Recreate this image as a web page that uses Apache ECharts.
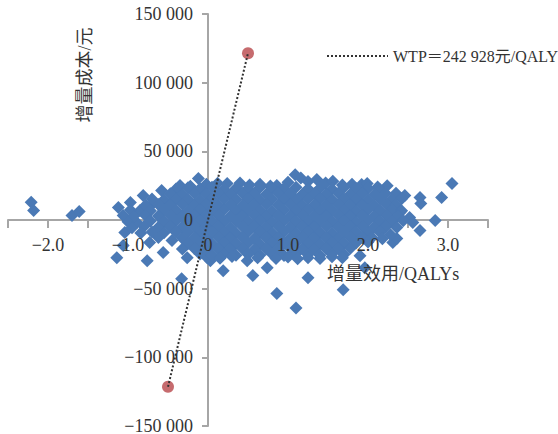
<!DOCTYPE html>
<html>
<head>
<meta charset="utf-8">
<script src="https://cdn.jsdelivr.net/npm/echarts@6/dist/echarts.min.js"></script>
<style>
html,body{margin:0;padding:0;background:#fff;}
#chart{width:558px;height:434px;}
</style>
</head>
<body>
<div id="chart"></div>
<script>
// ---- Data ----
const xAxisTitle = '增量效用/QALYs';
const yAxisTitle = '增量成本/元';
const wtpValue = 242928;
const wtpLabel = 'WTP＝242 928元/QALY';
const wtpPoints = [[-0.5, -121464], [0.5, 121464]];
const xTickLabels = ['−2.0', '−1.0', '0', '1.0', '2.0', '3.0'];

// incremental effect (QALYs), incremental cost (yuan)
const psaOutliers = [
  [-2.21,13000],[-2.18,7000],[-1.70,3300],[-1.61,6200],
  [-1.12,9100],[-0.97,12800],[-0.81,17900],[-0.58,21500],[-0.35,25200],[-0.12,30300],
  [-1.06,3300],[-1.04,-9100],[-1.14,-27400],[-0.76,-29600],[-0.33,-42700],[-1.06,-18600],
  [-0.73,-16400],[-0.56,-23700],[-0.45,-15000],[-0.26,-27400],[-0.89,-1800],[-0.85,6900],[-0.69,12000],
  [0.03,-29600],[0.19,-36900],[0.56,-40500],[0.74,-34700],[0.86,-53500],[1.10,-64000],[1.25,-42000],
  [1.69,-50700],[1.96,-34700],[1.90,-26000],[-0.01,-27400],
  [3.05,26600],[2.92,16400],[2.84,-400],[2.65,-7700],[2.65,16400],[2.66,12000],[2.46,17900],
  [2.31,-16400],[2.52,1800],[2.56,-1800],[2.40,5500],[2.24,25000],[2.36,-13500]
];
const psaUpper = [
  [-0.22,24500],[-0.02,26000],[0.12,26800],[0.24,26600],[0.40,26900],[0.52,25500],[0.65,26000],
  [0.78,24800],[0.86,25200],[1.00,27500],[1.09,33000],[1.16,30500],[1.25,28000],[1.36,29500],
  [1.47,27000],[1.56,28200],[1.68,25500],[1.80,26000],[1.92,25800],[1.99,26600],[2.12,24000],
  [-0.40,22600],[-0.25,23400],[-0.10,22800],[0.05,23900],[0.20,22400],[0.35,23200],[0.50,22900],
  [0.65,23600],[0.80,22300],[0.95,23100],[1.10,23800],[1.25,22700],[1.40,23300],[1.55,22500],
  [1.70,23700],[1.85,22900],[2.00,23100],[2.15,22000],
  [-0.47,19200],[-0.32,18700],[-0.17,19500],[-0.02,18900],[0.13,19300],[0.28,18600],[0.43,19400],
  [0.58,19000],[0.73,18800],[0.88,19600],[1.03,19100],[1.18,18700],[1.33,19300],[1.48,18900],
  [1.63,19500],[1.78,18800],[1.93,19200],[2.08,18600],[2.22,19300],[2.35,19500],
  [-0.70,15300],[-0.55,14800],[-0.40,15400],[-0.25,15000],[-0.10,14700],[0.05,15200],[0.20,15500],
  [0.35,14900],[0.50,15100],[0.65,14600],[0.80,15300],[0.95,15000],[1.10,14800],[1.25,15400],
  [1.40,15100],[1.55,14700],[1.70,15200],[1.85,15000],[2.00,14600],[2.15,15300],[2.30,14900],[2.42,15500],
  [-0.78,10800],[-0.62,11200],[-0.47,10900],[-0.32,11400],[-0.17,10700],[-0.02,11100],[0.13,10800],
  [0.28,11300],[0.43,10600],[0.58,11000],[0.73,11200],[0.88,10900],[1.03,11400],[1.18,10700],
  [1.33,11100],[1.48,10800],[1.63,11300],[1.78,10900],[1.93,11000],[2.08,10600],[2.23,11200],[2.35,10800],
  [-0.97,7200],[-0.72,6800],[-0.55,7300],[-0.40,7000],[-0.25,6700],[-0.10,7100],[0.05,6900],
  [0.20,7400],[0.35,6800],[0.50,7200],[0.65,7000],[0.80,6600],[0.95,7300],[1.10,6900],[1.25,7100],
  [1.40,6800],[1.55,7200],[1.70,7000],[1.85,6700],[2.00,7300],[2.15,6900],[2.30,7100],[2.42,6800]
];
const psaLower = [
  [-0.93,2800],[-0.78,3200],[-0.62,2900],[-0.47,3300],[-0.32,2700],[-0.17,3100],[-0.02,2900],
  [0.13,3200],[0.28,2800],[0.43,3000],[0.58,3300],[0.73,2700],[0.88,3100],[1.03,2900],[1.18,3200],
  [1.33,2800],[1.48,3000],[1.63,3300],[1.78,2900],[1.93,3100],[2.08,2700],[2.23,3200],[2.38,2900],
  [-1.00,-1200],[-0.72,-800],[-0.55,-1100],[-0.40,-700],[-0.25,-1300],[-0.10,-900],[0.05,-1000],
  [0.20,-1200],[0.35,-800],[0.50,-1100],[0.65,-900],[0.80,-1300],[0.95,-700],[1.10,-1000],
  [1.25,-1200],[1.40,-800],[1.55,-1100],[1.70,-900],[1.85,-1200],[2.00,-800],[2.15,-1000],[2.30,-1100],[2.44,-600],
  [-0.95,-5600],[-0.80,-4800],[-0.62,-5200],[-0.47,-4900],[-0.32,-5300],[-0.17,-4700],[-0.02,-5100],
  [0.13,-4900],[0.28,-5400],[0.43,-4800],[0.58,-5000],[0.73,-5300],[0.88,-4700],[1.03,-5200],
  [1.18,-4900],[1.33,-5100],[1.48,-4800],[1.63,-5300],[1.78,-5000],[1.93,-4700],[2.08,-5200],[2.22,-4900],[2.36,-5400],
  [-0.84,-9400],[-0.70,-8800],[-0.55,-9200],[-0.40,-9000],[-0.25,-8700],[-0.10,-9300],[0.05,-8900],
  [0.20,-9100],[0.35,-9400],[0.50,-8800],[0.65,-9000],[0.80,-9300],[0.95,-8700],[1.10,-9200],
  [1.25,-8900],[1.40,-9100],[1.55,-9400],[1.70,-8800],[1.85,-9000],[2.00,-9200],[2.15,-8900],[2.28,-10500],
  [-0.62,-12800],[-0.32,-13200],[-0.17,-12900],[-0.02,-13300],[0.13,-12700],[0.28,-13100],[0.43,-12800],
  [0.58,-13400],[0.73,-12900],[0.88,-13000],[1.03,-13300],[1.18,-12700],[1.33,-13100],[1.48,-12900],
  [1.63,-13200],[1.78,-12800],[1.93,-13000],[2.05,-12800],[2.18,-13600],
  [-0.25,-17200],[-0.10,-16800],[0.05,-17300],[0.20,-16900],[0.35,-17100],[0.50,-16700],[0.65,-17400],
  [0.80,-16900],[0.95,-17200],[1.10,-16800],[1.25,-17100],[1.40,-17300],[1.55,-16900],[1.70,-17000],
  [1.85,-16700],[2.00,-16000],
  [-0.32,-21200],[-0.17,-20800],[-0.02,-21300],[0.13,-20900],[0.28,-21100],[0.43,-20700],[0.58,-21400],
  [0.73,-20900],[0.88,-21200],[1.03,-20800],[1.18,-21100],[1.33,-21300],[1.48,-20900],[1.63,-21000],[1.78,-20600],
  [-0.10,-24800],[0.05,-25300],[0.20,-24600],[0.35,-25600],[0.50,-24900],[0.65,-25400],[0.80,-24700],
  [0.95,-25800],[1.10,-24500],[1.25,-25200],[1.40,-25700],[1.55,-24600],[1.70,-25100],
  [0.15,-27800],[0.30,-26500],[0.49,-29600],[0.62,-27500],[0.85,-28000],[1.00,-27000],[1.12,-28200],
  [1.25,-27500],[1.40,-28000],[1.55,-26800],[1.68,-27500]
];

// ---- Chart ----
const FONT = '"Liberation Serif","Times New Roman","Noto Sans CJK SC",serif';
const AXIS_COLOR = '#a6a6a6';
const TEXT_COLOR = '#333333';
const NONE = 'rgba(0,0,0,0)';
const W = 558, H = 434;
const GRID = {left: 8, right: 70, top: 14, bottom: 8};
const X_MIN = -2.5, X_MAX = 3.5, Y_MIN = -150000, Y_MAX = 150000;
// distance from the grid edge to the zero lines (used to shift the label axes onto the crossing axes)
const zeroFromLeft = (0 - X_MIN) / (X_MAX - X_MIN) * (W - GRID.left - GRID.right);
const zeroFromBottom = (0 - Y_MIN) / (Y_MAX - Y_MIN) * (H - GRID.top - GRID.bottom);

function fmtY(v) {
  if (v === 0) return '0';
  const s = String(Math.abs(v)).replace(/\B(?=(\d{3})+(?!\d))/g, ' ');
  return (v < 0 ? '−' : '') + s;
}
function fmtX(v) {
  const r = Math.round(v);
  if (Math.abs(v - r) > 1e-9) return '';
  const idx = r + 2;
  return xTickLabels[idx] !== undefined ? xTickLabels[idx] : '';
}

const chart = echarts.init(document.getElementById('chart'), null, {renderer: 'svg'});
const baseX = {type: 'value', gridIndex: 0, min: X_MIN, max: X_MAX, interval: 0.5, position: 'bottom', splitLine: {show: false}};
const baseY = {type: 'value', gridIndex: 0, min: Y_MIN, max: Y_MAX, interval: 50000, position: 'left', splitLine: {show: false}};

chart.setOption({
  animation: false,
  backgroundColor: '#ffffff',
  grid: Object.assign({containLabel: false, outerBoundsMode: 'none'}, GRID),
  xAxis: [
    Object.assign({}, baseX, {
      z: 0,
      axisLine: {onZero: true, lineStyle: {color: AXIS_COLOR, width: 2}},
      axisTick: {show: true, length: 8, lineStyle: {color: AXIS_COLOR, width: 2}},
      axisLabel: {show: false}
    }),
    Object.assign({}, baseX, {
      z: 10, offset: -zeroFromBottom,
      axisLine: {show: false, onZero: false},
      axisTick: {show: false},
      axisLabel: {show: true, margin: 17, formatter: fmtX, fontSize: 18, lineHeight: 16, fontFamily: FONT, color: TEXT_COLOR, hideOverlap: false}
    })
  ],
  yAxis: [
    Object.assign({}, baseY, {
      z: 0,
      axisLine: {onZero: true, lineStyle: {color: AXIS_COLOR, width: 2}},
      axisTick: {show: true, length: 6, lineStyle: {color: AXIS_COLOR, width: 2}},
      axisLabel: {show: false}
    }),
    Object.assign({}, baseY, {
      z: 10, offset: -zeroFromLeft,
      axisLine: {show: false, onZero: false},
      axisTick: {show: false},
      axisLabel: {show: true, margin: 15, formatter: fmtY, fontSize: 18, lineHeight: 14, fontFamily: FONT, color: TEXT_COLOR, hideOverlap: false}
    })
  ],
  legend: {
    data: [wtpLabel],
    left: 321, top: 43,
    itemWidth: 61, itemHeight: 18,
    itemStyle: {color: NONE, borderColor: NONE, borderWidth: 0},
    textStyle: {fontSize: 16, fontFamily: FONT, color: TEXT_COLOR}
  },
  graphic: [
    {type: 'text', x: 85, y: 75, rotation: Math.PI / 2, z: 100,
     style: {text: yAxisTitle, font: '18px ' + FONT, fill: TEXT_COLOR, align: 'center', verticalAlign: 'middle'}},
    {type: 'text', x: 327, y: 274, z: 100,
     style: {text: xAxisTitle, font: '18px ' + FONT, fill: TEXT_COLOR, align: 'left', verticalAlign: 'middle'}}
  ],
  series: [
    {
      type: 'scatter', name: 'PSA', xAxisIndex: 0, yAxisIndex: 0, z: 2,
      symbol: 'diamond', symbolSize: 13,
      itemStyle: {color: '#4a79b5', opacity: 1},
      data: psaOutliers.concat(psaUpper, psaLower)
    },
    {
      type: 'scatter', name: 'WTP点', xAxisIndex: 0, yAxisIndex: 0, z: 3,
      symbol: 'circle', symbolSize: 12,
      itemStyle: {color: '#b8464a'},
      data: wtpPoints
    },
    {
      type: 'line', name: wtpLabel, xAxisIndex: 0, yAxisIndex: 0, z: 4,
      symbol: 'none', showSymbol: false,
      itemStyle: {color: '#333333'},
      lineStyle: {color: '#333333', width: 2, type: 'dotted'},
      data: wtpPoints
    }
  ]
});
</script>
</body>
</html>
